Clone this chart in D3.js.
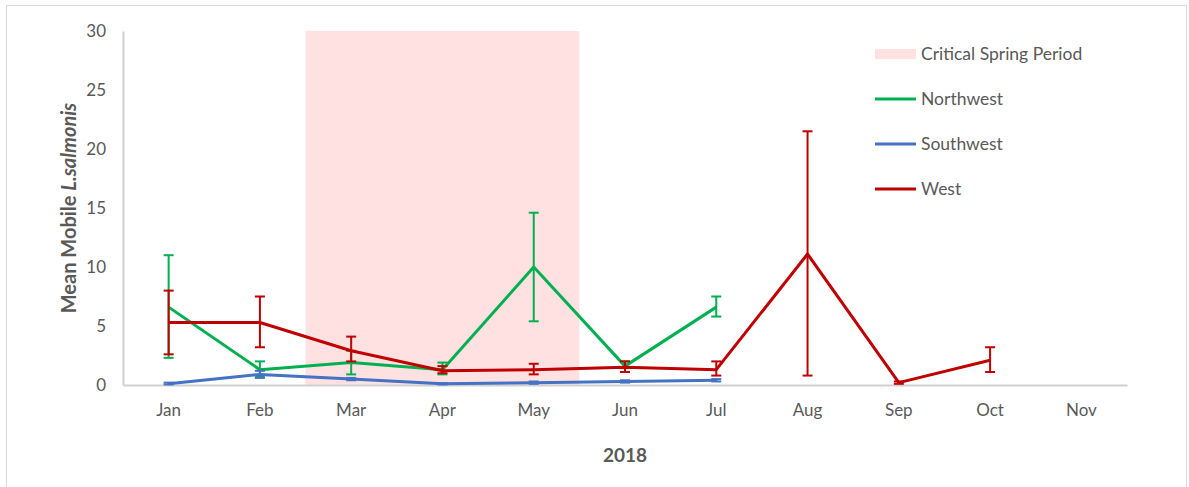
<!DOCTYPE html>
<html>
<head>
<meta charset="utf-8">
<script src="https://cdn.jsdelivr.net/npm/d3@7"></script>
<style>
  body { margin: 0; background: #fff; }
  text { font-family: Lato, "Noto Sans", sans-serif; }
</style>
</head>
<body>
<script>
// monthly mean mobile L. salmonis per region, with error bar limits
var months = ["Jan", "Feb", "Mar", "Apr", "May", "Jun", "Jul", "Aug", "Sep", "Oct", "Nov"];
var yTicks = [0, 5, 10, 15, 20, 25, 30];
var springMonths = ["Mar", "May"];

var northwest = [6.6, 1.3, 1.9, 1.3, 10.0, 1.6, 6.6, null, null, null, null];
var northwestLo = [2.3, 0.7, 0.9, 0.9, 5.4, 1.1, 5.8, null, null, null, null];
var northwestHi = [11.0, 2.0, 2.9, 1.9, 14.6, 2.0, 7.5, null, null, null, null];

var southwest = [0.1, 0.9, 0.5, 0.1, 0.2, 0.3, 0.4, null, null, null, null];
var southwestLo = [0.05, 0.6, 0.4, 0.05, 0.1, 0.2, 0.3, null, null, null, null];
var southwestHi = [0.2, 1.2, 0.6, 0.15, 0.3, 0.4, 0.5, null, null, null, null];

var west = [5.3, 5.3, 2.9, 1.2, 1.3, 1.5, 1.3, 11.1, 0.2, 2.1, null];
var westLo = [2.6, 3.2, 2.0, 1.0, 0.9, 1.1, 0.8, 0.8, 0.1, 1.1, null];
var westHi = [8.0, 7.5, 4.1, 1.6, 1.8, 2.0, 2.0, 21.5, 0.3, 3.2, null];

var seriesNames = ["Northwest", "Southwest", "West"];
var seriesColors = ["#00b050", "#4472c4", "#c00000"];

var series = [
  {name: seriesNames[0], color: seriesColors[0], v: northwest, lo: northwestLo, hi: northwestHi},
  {name: seriesNames[1], color: seriesColors[1], v: southwest, lo: southwestLo, hi: southwestHi},
  {name: seriesNames[2], color: seriesColors[2], v: west, lo: westLo, hi: westHi}
];

var width = 1189;
var height = 487;
var margin = {top: 31, right: 62, bottom: 102, left: 123};

var svg = d3.select("body")
  .append("svg")
  .attr("width", width)
  .attr("height", height);

// outer chart border
svg.append("rect")
  .attr("x", 6.5)
  .attr("y", 5.5)
  .attr("width", 1180)
  .attr("height", 490)
  .attr("fill", "none")
  .attr("stroke", "#d9d9d9")
  .attr("stroke-width", 1);

var g = svg.append("g")
  .attr("transform", "translate(" + margin.left + "," + margin.top + ")");

var w = width - margin.left - margin.right;
var h = height - margin.top - margin.bottom;

var x = d3.scaleBand()
  .domain(months)
  .range([0, w]);

var y = d3.scaleLinear()
  .domain([0, 30])
  .range([h, 0]);

// critical spring period band
g.append("rect")
  .attr("x", x(springMonths[0]))
  .attr("y", y(30))
  .attr("width", x(springMonths[1]) + x.bandwidth() - x(springMonths[0]))
  .attr("height", y(0) - y(30))
  .attr("fill", "#ffe1e2");

// axes
var yAxis = g.append("g")
  .call(d3.axisLeft(y).tickValues(yTicks).tickSize(0).tickPadding(17));
yAxis.select(".domain").attr("stroke", "#d0d0d0").attr("stroke-width", 2);
yAxis.selectAll("text")
  .attr("fill", "#595959")
  .style("font-size", "17px");

var xAxis = g.append("g")
  .attr("transform", "translate(0," + h + ")")
  .call(d3.axisBottom(x).tickSize(0).tickPadding(19));
xAxis.select(".domain").attr("stroke", "#d0d0d0").attr("stroke-width", 2);
xAxis.selectAll("text")
  .attr("fill", "#595959")
  .style("font-size", "17px");

// axis titles
var yTitle = svg.append("text")
  .attr("transform", "translate(76," + (margin.top + h / 2) + ") rotate(-90)")
  .attr("text-anchor", "middle")
  .attr("fill", "#595959")
  .style("font-size", "20px")
  .style("font-weight", "bold");
yTitle.append("tspan").text("Mean Mobile ");
yTitle.append("tspan").style("font-style", "italic").text("L.salmonis");

svg.append("text")
  .attr("x", margin.left + w / 2)
  .attr("y", 462)
  .attr("text-anchor", "middle")
  .attr("fill", "#595959")
  .style("font-size", "19px")
  .style("font-weight", "bold")
  .text("2018");

var line = d3.line()
  .defined(function(d) { return d != null; })
  .x(function(d, i) { return x(months[i]) + x.bandwidth() / 2; })
  .y(function(d) { return y(d); });

series.forEach(function(s) {
  var sg = g.append("g");

  var pts = s.v.map(function(d, i) {
    return {m: months[i], v: d, lo: s.lo[i], hi: s.hi[i]};
  }).filter(function(d) { return d.v != null; });

  sg.append("path")
    .datum(s.v)
    .attr("fill", "none")
    .attr("stroke", s.color)
    .attr("stroke-width", 3)
    .attr("stroke-linejoin", "round")
    .attr("d", line);

  var cx = function(d) { return x(d.m) + x.bandwidth() / 2; };

  sg.selectAll(".err")
    .data(pts)
    .enter()
    .append("line")
    .attr("x1", cx)
    .attr("x2", cx)
    .attr("y1", function(d) { return y(d.lo); })
    .attr("y2", function(d) { return y(d.hi); })
    .attr("stroke", s.color)
    .attr("stroke-width", 2);

  [ "lo", "hi" ].forEach(function(k) {
    sg.selectAll(".cap-" + k)
      .data(pts)
      .enter()
      .append("line")
      .attr("x1", function(d) { return cx(d) - 5; })
      .attr("x2", function(d) { return cx(d) + 5; })
      .attr("y1", function(d) { return y(d[k]); })
      .attr("y2", function(d) { return y(d[k]); })
      .attr("stroke", s.color)
      .attr("stroke-width", 2);
  });
});

// legend
var legend = svg.append("g")
  .attr("transform", "translate(875,54)");

legend.append("rect")
  .attr("x", 0)
  .attr("y", -5)
  .attr("width", 41)
  .attr("height", 10)
  .attr("fill", "#ffe1e2");
legend.append("text")
  .attr("x", 46)
  .attr("y", 0)
  .attr("dy", "0.35em")
  .attr("fill", "#595959")
  .style("font-size", "17.5px")
  .text("Critical Spring Period");

series.forEach(function(s, i) {
  var ly = 45 * (i + 1);
  legend.append("line")
    .attr("x1", 0)
    .attr("x2", 41)
    .attr("y1", ly)
    .attr("y2", ly)
    .attr("stroke", s.color)
    .attr("stroke-width", 3);
  legend.append("text")
    .attr("x", 46)
    .attr("y", ly)
    .attr("dy", "0.35em")
    .attr("fill", "#595959")
    .style("font-size", "17.5px")
    .text(s.name);
});
</script>
</body>
</html>
